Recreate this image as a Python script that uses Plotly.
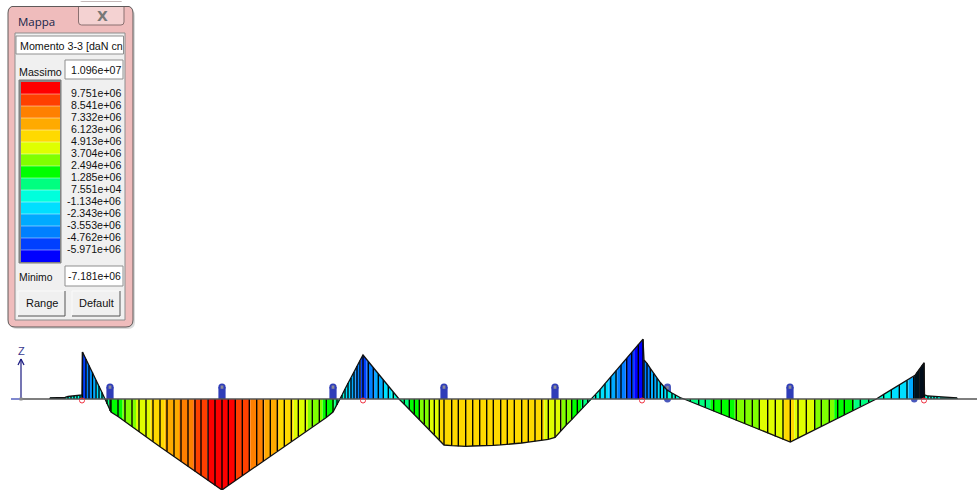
import plotly.graph_objects as go

# Moment diagram, bending moment M3-3 in 1e6 daN cm (positive = sagging, drawn downward)
stations = [
    50, 51, 52, 53, 54, 55, 56, 57, 58, 59, 60, 61, 62, 63, 64, 65, 68, 71, 74, 77, 80, 82,
    82.5, 86, 89, 92.5, 96, 99, 102, 105, 107, 110,
    111, 118, 125, 132, 139, 146, 153, 160, 167, 174, 181, 188, 195, 201, 208, 215, 222,
    228.3, 235.3, 242.3, 249.3, 256.7, 263.3, 270.3, 277.3, 284.3, 291.3, 298.3, 305.3, 312.3, 319.3, 326.3, 333, 337, 340,
    342, 345, 348, 351, 354, 357, 360, 363,
    368.3, 373.3, 378.3, 383.3, 388.3, 393.3, 399,
    404.3, 409.3, 414.3, 419.3, 424.3, 429.3, 434.3, 439.3, 444,
    451.7, 458.3, 465.7, 472.7, 479.7, 486.7, 493.3, 500.7, 507.3, 514.3, 521.7, 528.3, 535, 541.7, 548.3, 555,
    560.7, 566.3, 571.7, 577.3, 582.7, 587.7, 592,
    595.7, 600, 605, 610.7, 616, 621, 626.7, 631.7, 638.3, 643,
    644, 647, 650.3, 653.7, 657, 660.3, 663.7, 667, 672, 675.3, 680, 684,
    690.3, 698.7, 705.3, 713.7, 721.3, 729.3, 736.3, 744.7, 752.3, 759.3, 767.7, 775.3, 783, 790.3,
    798, 806.3, 814.7, 821.3, 829.3, 837.7, 844.3, 852.7, 860.3, 868.7, 876.3,
    883.7, 891.3, 899.3, 907, 913.7,
    915, 916, 917, 918, 919, 920, 921, 922, 923, 924,
    924.5, 928, 931, 934, 937, 941, 943, 945, 947, 949, 951, 953, 955, 957,
]
moments = [
    -.14, -.14, -.14, -.15, -.15, -.15, -.16, -.16, -.16, -.17, -.17, -.18, -.18, -.18, -.19, -.2, -.3, -.33, -.36, -.4, -.46, -.5,
    -5.64, -4.8, -4.02, -3.18, -2.28, -1.56, -.78, 0, .6, 1.44,
    1.56, 2.1, 2.72, 3.36, 3.96, 4.54, 5.14, 5.72, 6.31, 6.9, 7.5, 8.09, 8.69, 9.19, 9.79, 10.38, 10.92,
    10.38, 9.8, 9.22, 8.63, 8.0, 7.44, 6.84, 6.24, 5.7, 5.1, 4.51, 3.92, 3.34, 2.75, 2.22, 1.56, .72, 0,
    -.48, -1.2, -1.92, -2.52, -3.24, -3.96, -4.62, -5.28,
    -4.5, -3.77, -3.04, -2.3, -1.56, -.84, 0,
    .64, 1.24, 1.86, 2.46, 3.06, 3.67, 4.28, 4.9, 5.52,
    5.6, 5.68, 5.68, 5.64, 5.64, 5.6, 5.57, 5.51, 5.46, 5.39, 5.28, 5.17, 5.06, 4.96, 4.84, 4.62,
    3.84, 3.12, 2.48, 1.76, 1.08, .48, 0,
    -.52, -1.13, -1.84, -2.64, -3.38, -4.09, -4.91, -5.62, -6.54, -7.18,
    -4.68, -4.28, -3.68, -3.06, -2.48, -1.98, -1.5, -1.08, -.72, -.48, -.18, 0,
    .31, .72, 1.04, 1.46, 1.84, 2.23, 2.57, 2.99, 3.36, 3.71, 4.12, 4.49, 4.87, 5.16,
    4.69, 4.19, 3.68, 3.28, 2.8, 2.28, 1.88, 1.37, .91, .41, 0,
    -.55, -1.1, -1.68, -2.23, -2.68,
    -2.84, -3, -3.17, -3.34, -3.5, -3.67, -3.84, -4.01, -4.18, -4.34,
    -.5, -.36, -.34, -.32, -.3, -.2, -.2, -.2, -.2, -.2, -.2, -.18, -.16, -.14,
]
support_stations = [110, 222, 333, 444, 555, 790]
hinge_stations = [82, 363, 642, 924]

title_text = "Mappa"
combo_text = "Momento 3-3 [daN cn"
max_label = "1.096e+07"
min_label = "-7.181e+06"
legend_labels = ["9.751e+06", "8.541e+06", "7.332e+06", "6.123e+06", "4.913e+06", "3.704e+06", "2.494e+06",
                 "1.285e+06", "7.551e+04", "-1.134e+06", "-2.343e+06", "-3.553e+06", "-4.762e+06", "-5.971e+06"]
band_colors = ["#ff0000", "#ff4000", "#ff8000", "#ffaa00", "#ffd900", "#dfff00", "#80ff00", "#00ff00",
               "#00ff80", "#00ffdc", "#00dfff", "#00aaff", "#0080ff", "#0040ff", "#0000ff"]

edges = [float(s) / 1e6 for s in legend_labels]
polys = [([], []) for _ in band_colors]


def band(v):
    return sum(1 for e in edges if v < e)


for i in range(len(stations) - 1):
    x0, x1, m0, m1 = stations[i], stations[i + 1], moments[i], moments[i + 1]
    cuts = [(x0, m0)]
    if m0 != m1:
        hit = [e for e in edges if min(m0, m1) < e < max(m0, m1)]
        hit.sort(key=lambda e: (e - m0) / (m1 - m0))
        cuts += [(x0 + (e - m0) / (m1 - m0) * (x1 - x0), e) for e in hit]
    cuts.append((x1, m1))
    for (a, ma), (b, mb) in zip(cuts, cuts[1:]):
        xs, ys = polys[band((ma + mb) / 2)]
        xs += [a, a, b, b, a, None]
        ys += [0, ma, mb, 0, 0, None]

fig = go.Figure()
for color, (xs, ys) in zip(band_colors, polys):
    if xs:
        fig.add_trace(go.Scatter(x=xs, y=ys, mode="lines", fill="toself", fillcolor=color,
                                 line=dict(width=0, color=color), hoverinfo="skip", showlegend=False))

hx, hy = [], []
for s, m in zip(stations, moments):
    hx += [s, s, None]
    hy += [0, m, None]
fig.add_trace(go.Scatter(x=hx, y=hy, mode="lines", line=dict(color="#000", width=1.35), hoverinfo="skip", showlegend=False))
fig.add_trace(go.Scatter(x=stations, y=moments, mode="lines", line=dict(color="#111", width=1.3), hoverinfo="skip", showlegend=False))
fig.add_trace(go.Scatter(x=[21, 977], y=[0, 0], mode="lines", line=dict(color="#555", width=1.3), hoverinfo="skip", showlegend=False))
fig.add_trace(go.Scatter(x=hinge_stations, y=[.18] * len(hinge_stations), mode="markers",
                         marker=dict(symbol="circle-open", size=5, color="#f03040", line=dict(width=1)),
                         hoverinfo="skip", showlegend=False))

shapes = []
annos = []


def rect(x0, y0, x1, y1, fill, line=None, layer="above", w=1):
    shapes.append(dict(type="rect", xref="x", yref="y2", x0=x0, y0=y0, x1=x1, y1=y1, fillcolor=fill, layer=layer,
                       line=dict(color=line or fill, width=w if line else 0)))


def seg(x0, y0, x1, y1, color, w=1, layer="above"):
    shapes.append(dict(type="line", xref="x", yref="y2", x0=x0, y0=y0, x1=x1, y1=y1, layer=layer,
                       line=dict(color=color, width=w)))


def rrect(x0, y0, x1, y1, r, fill, line=None, opacity=1):
    p = (f"M{x0+r},{y0} L{x1-r},{y0} Q{x1},{y0} {x1},{y0+r} L{x1},{y1-r} Q{x1},{y1} {x1-r},{y1} "
         f"L{x0+r},{y1} Q{x0},{y1} {x0},{y1-r} L{x0},{y0+r} Q{x0},{y0} {x0+r},{y0} Z")
    shapes.append(dict(type="path", xref="x", yref="y2", path=p, fillcolor=fill, opacity=opacity, layer="above",
                       line=dict(color=line or fill, width=1 if line else 0)))


def text(x, y, t, size=11, color="#111", anchor="left", font="Liberation Sans"):
    annos.append(dict(x=x, y=y, xref="x", yref="y2", text=t, showarrow=False, xanchor=anchor, yanchor="middle",
                      borderpad=0, font=dict(family=font, size=size, color=color)))


# Supports on the span line
for s in support_stations:
    rect(s - 3.6, 387, s + 3.6, 399, "#2f3db8", layer="below")
    shapes.append(dict(type="circle", xref="x", yref="y2", x0=s - 3.6, x1=s + 3.6, y0=383.5, y1=390.5,
                       fillcolor="#2f3db8", line=dict(width=0), layer="below"))
    rect(s - 1.4, 385.5, s + 1.4, 388.8, "#8a8a98", layer="below")
rrect(664, 383.5, 671, 402.5, 3.4, "#4a58bc")
shapes[-1]["layer"] = "below"
rect(666.3, 386, 668.7, 389, "#8a8a98", layer="below")
shapes.append(dict(type="circle", xref="x", yref="y2", x0=911, x1=917.5, y0=396, y1=402.5, fillcolor="#4a58bc",
                   line=dict(width=0), layer="below"))

# Z axis glyph
seg(11, 399, 21, 399, "#2a3ab0", 1.2)
seg(21, 399, 21, 359, "#1a1a80", 1.2)
seg(18, 365, 21, 359, "#1a1a80", 1.2)
seg(24, 365, 21, 359, "#1a1a80", 1.2)
rect(19.5, 397.5, 22.5, 400.5, "#8a8a8a")
text(21.5, 351, "Z", 11, "#3a3a90", "center")

# Dialog window
rrect(10, 9, 135, 329, 7, "#999999", opacity=0.35)
rrect(8, 6, 133, 327, 7, "#efbcbc", "#5f5a5a")
rrect(78.5, 2, 124, 25, 3, "#f4d2d2", "#8a7070")
rect(8.5, 2, 132.5, 6, "#ffffff")
seg(12, 6.5, 129, 6.5, "#5f5a5a")
rect(15, 33, 125, 320, "#f0f0f0", "#8d8d8d")
text(16.5, 21, title_text, 11.5, "#15254a", font="Open Sans")
text(102, 15.5, "X", 14, "#777777", "center", font="DejaVu Sans")
annos[-1]["font"]["weight"] = "bold"

rect(16, 36, 123.5, 54, "#ffffff", "#8f8f8f")
text(19, 46, combo_text, 10.7)
text(18, 71.5, "Massimo", 10.7)
rect(65, 60, 123, 79, "#ffffff", "#8f8f8f")
text(122, 69.5, max_label, 10.6, anchor="right")

# Colour scale
rect(19, 80, 61, 263, "#8a8a8a", "#7a7a7a")
for k, color in enumerate(band_colors):
    rect(21, 82 + 12 * k, 60, 94 + 12 * k, color)
    if k:
        seg(21, 82 + 12 * k, 60, 82 + 12 * k, "rgba(255,255,255,0.45)")
for k, label in enumerate(legend_labels):
    text(122, 92.5 + 12 * k, label, 10.6, anchor="right")

text(18, 277.5, "Minimo", 10.4)
rect(65, 266, 123, 286, "#ffffff", "#8f8f8f")
text(122, 276, min_label, 10.4, anchor="right")
for x0, x1, lab in [(18, 65, "Range"), (72, 120, "Default")]:
    rect(x0, 291, x1, 316, "#f0f0f0")
    seg(x0, 291, x1, 291, "#fafafa")
    seg(x0, 291, x0, 316, "#fafafa")
    seg(x0, 316, x1, 316, "#555555")
    seg(x1, 291, x1, 316, "#555555")
    text((x0 + x1) / 2, 303, lab, 11, anchor="center")

fig.update_layout(
    width=977, height=490, margin=dict(l=0, r=0, t=0, b=0), autosize=False,
    paper_bgcolor="white", plot_bgcolor="white", showlegend=False,
    xaxis=dict(range=[0, 977], visible=False, fixedrange=True),
    yaxis=dict(range=[10.92, -47.88], visible=False, fixedrange=True),
    yaxis2=dict(range=[490, 0], visible=False, overlaying="y", fixedrange=True),
    shapes=shapes, annotations=annos,
)
fig.add_trace(go.Scatter(x=[None], y=[None], yaxis="y2", hoverinfo="skip", showlegend=False))
fig.write_html("out.html", config=dict(displayModeBar=False),
               post_script="document.body.style.margin='0';")
